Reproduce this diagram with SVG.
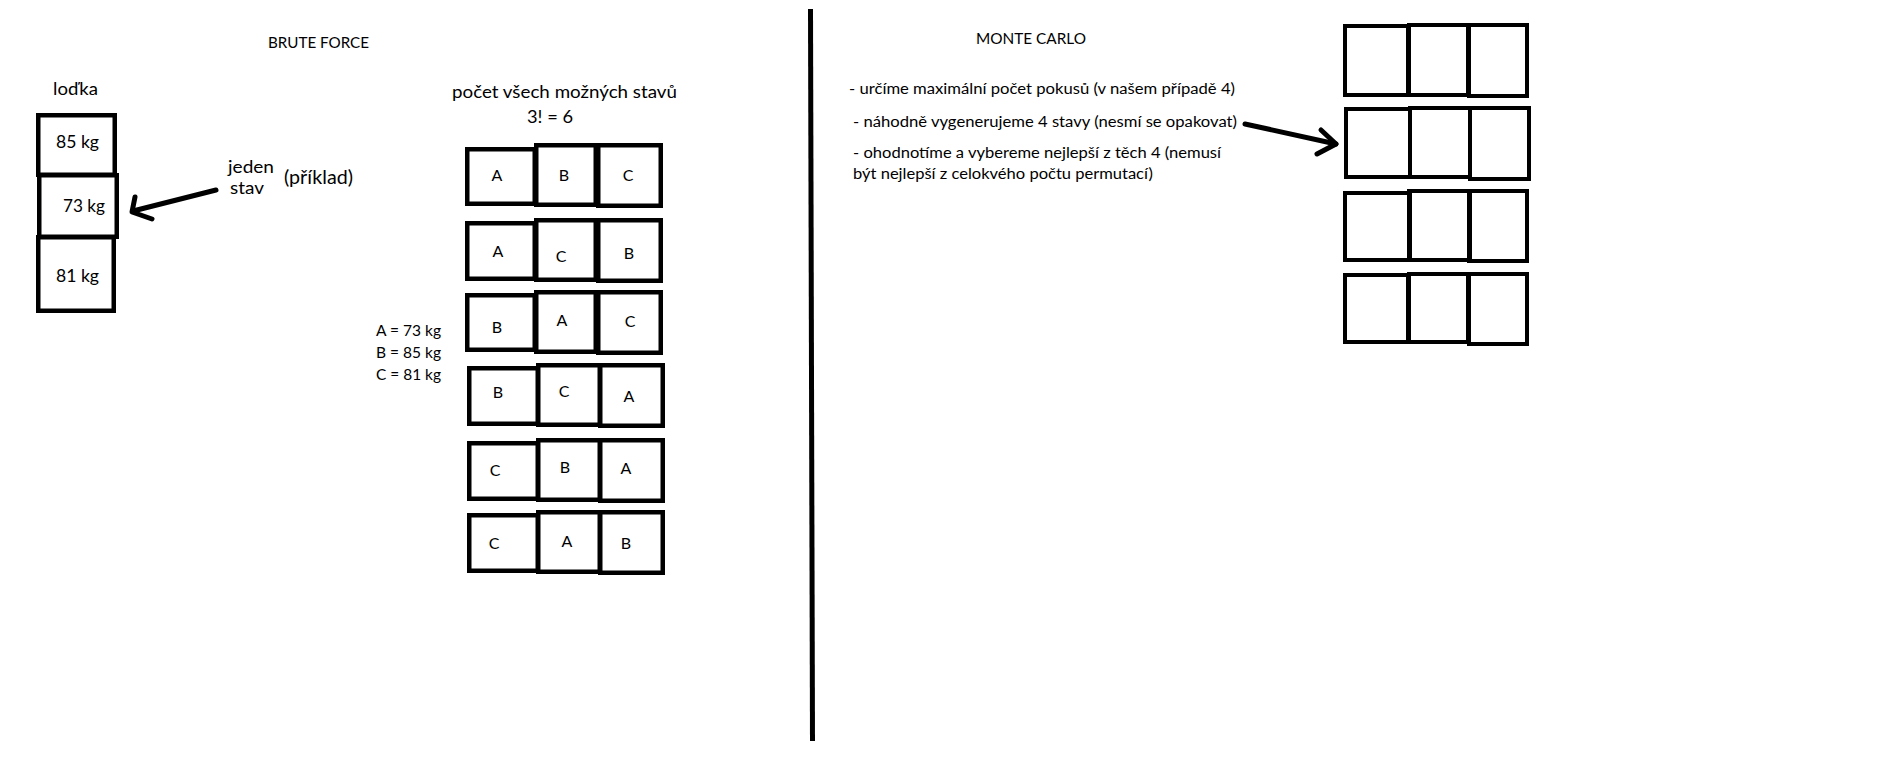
<svg xmlns="http://www.w3.org/2000/svg" width="1895" height="765" viewBox="0 0 1895 765">
<style>
  .bg { fill: #ffffff; }
  .t { font-family: Lato, "Liberation Sans", "DejaVu Sans", sans-serif; fill: #000; }
  .cell { fill: none; stroke: #000; stroke-width: 4.5; }
  .mc { fill: none; stroke: #000; stroke-width: 4; }
  .arrow { fill: none; stroke: #000; stroke-width: 5; stroke-linecap: round; stroke-linejoin: round; }
  .divider { stroke: #000; stroke-width: 5; stroke-linecap: butt; }
  .lt { font-size: 16px; text-anchor: middle; }
</style>
<rect class="bg" x="0" y="0" width="1895" height="765"/>

<!-- titles -->
<text class="t" x="268" y="48" font-size="16" textLength="101" lengthAdjust="spacingAndGlyphs">BRUTE FORCE</text>
<text class="t" x="976" y="44" font-size="15" textLength="110" lengthAdjust="spacingAndGlyphs">MONTE CARLO</text>

<!-- divider -->
<line class="divider" x1="810.5" y1="9" x2="812.5" y2="741"/>

<!-- boat -->
<g id="lodka">
  <text class="t" x="53" y="95" font-size="18" textLength="45" lengthAdjust="spacingAndGlyphs">loďka</text>
  <g id="lodka-85">
    <rect class="cell" x="38.25" y="115.25" width="76.5" height="59.5"/>
    <text class="t" x="56" y="148" font-size="18" textLength="43" lengthAdjust="spacingAndGlyphs">85 kg</text>
  </g>
  <g id="lodka-73">
    <rect class="cell" x="39.25" y="175.25" width="77.5" height="61.5"/>
    <text class="t" x="63" y="212" font-size="18" textLength="42" lengthAdjust="spacingAndGlyphs">73 kg</text>
  </g>
  <g id="lodka-81">
    <rect class="cell" x="38.25" y="237.25" width="75.5" height="73.5"/>
    <text class="t" x="56" y="282" font-size="18" textLength="43" lengthAdjust="spacingAndGlyphs">81 kg</text>
  </g>
</g>

<g id="label-jeden-stav">
  <text class="t" x="228" y="173" font-size="17.5" textLength="46" lengthAdjust="spacingAndGlyphs">jeden</text>
  <text class="t" x="230" y="194" font-size="17.5" textLength="34" lengthAdjust="spacingAndGlyphs">stav</text>
  <text class="t" x="284" y="184" font-size="19" textLength="69" lengthAdjust="spacingAndGlyphs">(příklad)</text>
</g>

<!-- brute force header -->
<g id="bf-header">
  <text class="t" x="452" y="98" font-size="18" textLength="225" lengthAdjust="spacingAndGlyphs">počet všech možných stavů</text>
  <text class="t" x="527" y="123" font-size="18" textLength="46" lengthAdjust="spacingAndGlyphs">3! = 6</text>
</g>

<g id="legend">
  <text class="t" x="376" y="336" font-size="15.5" textLength="65" lengthAdjust="spacingAndGlyphs">A = 73 kg</text>
  <text class="t" x="376" y="358" font-size="15.5" textLength="65" lengthAdjust="spacingAndGlyphs">B = 85 kg</text>
  <text class="t" x="376" y="380" font-size="15.5" textLength="65" lengthAdjust="spacingAndGlyphs">C = 81 kg</text>
</g>

<!-- brute force permutations -->
<g id="bf-row1">
  <rect class="cell" x="467.25" y="149.25" width="67.5" height="54.5"/>
  <rect class="cell" x="536.25" y="145.25" width="59.5" height="59.5"/>
  <rect class="cell" x="598.25" y="145.25" width="62.5" height="60.5"/>
  <text class="t lt" x="497" y="181" font-size="17">A</text>
  <text class="t lt" x="564" y="181" font-size="17">B</text>
  <text class="t lt" x="628" y="181" font-size="17">C</text>
</g>
<g id="bf-row2">
  <rect class="cell" x="467.25" y="223.25" width="67.5" height="55.5"/>
  <rect class="cell" x="536.25" y="220.25" width="59.5" height="59.5"/>
  <rect class="cell" x="598.25" y="220.25" width="62.5" height="60.5"/>
  <text class="t lt" x="498" y="257" font-size="17">A</text>
  <text class="t lt" x="561" y="262">C</text>
  <text class="t lt" x="629" y="259" font-size="15">B</text>
</g>
<g id="bf-row3">
  <rect class="cell" x="467.25" y="295.25" width="67.5" height="54.5"/>
  <rect class="cell" x="536.25" y="292.25" width="59.5" height="59.5"/>
  <rect class="cell" x="598.25" y="292.25" width="62.5" height="60.5"/>
  <text class="t lt" x="497" y="333">B</text>
  <text class="t lt" x="562" y="326">A</text>
  <text class="t lt" x="630" y="327">C</text>
</g>
<g id="bf-row4">
  <rect class="cell" x="469.25" y="368.25" width="68.5" height="55.5"/>
  <rect class="cell" x="538.25" y="365.25" width="61.5" height="59.5"/>
  <rect class="cell" x="600.25" y="365.25" width="62.5" height="60.5"/>
  <text class="t lt" x="498" y="398">B</text>
  <text class="t lt" x="564" y="397">C</text>
  <text class="t lt" x="629" y="402">A</text>
</g>
<g id="bf-row5">
  <rect class="cell" x="469.25" y="443.25" width="68.5" height="55.5"/>
  <rect class="cell" x="538.25" y="440.25" width="61.5" height="59.5"/>
  <rect class="cell" x="600.25" y="440.25" width="62.5" height="60.5"/>
  <text class="t lt" x="495" y="476">C</text>
  <text class="t lt" x="565" y="473">B</text>
  <text class="t lt" x="626" y="474">A</text>
</g>
<g id="bf-row6">
  <rect class="cell" x="469.25" y="515.25" width="68.5" height="55.5"/>
  <rect class="cell" x="538.25" y="512.25" width="61.5" height="59.5"/>
  <rect class="cell" x="600.25" y="512.25" width="62.5" height="60.5"/>
  <text class="t lt" x="494" y="549">C</text>
  <text class="t lt" x="567" y="547">A</text>
  <text class="t lt" x="626" y="549">B</text>
</g>

<!-- monte carlo text -->
<g id="mc-text">
  <text class="t" x="849" y="94" font-size="15.5" textLength="386" lengthAdjust="spacingAndGlyphs">- určíme maximální počet pokusů (v našem případě 4)</text>
  <text class="t" x="853" y="127" font-size="15.5" textLength="384" lengthAdjust="spacingAndGlyphs">- náhodně vygenerujeme 4 stavy (nesmí se opakovat)</text>
  <text class="t" x="853" y="158" font-size="15.5" textLength="368" lengthAdjust="spacingAndGlyphs">- ohodnotíme a vybereme nejlepší z těch 4 (nemusí</text>
  <text class="t" x="853" y="179" font-size="15.5" textLength="300" lengthAdjust="spacingAndGlyphs">být nejlepší z celokvého počtu permutací)</text>
</g>

<!-- monte carlo states -->
<g id="mc-row1">
  <rect class="mc" x="1345" y="26" width="63" height="69"/>
  <rect class="mc" x="1409" y="25" width="59" height="70"/>
  <rect class="mc" x="1469" y="25" width="58" height="71"/>
</g>
<g id="mc-row2">
  <rect class="mc" x="1346" y="109" width="64" height="68"/>
  <rect class="mc" x="1410" y="108" width="60" height="69"/>
  <rect class="mc" x="1470" y="108" width="59" height="71"/>
</g>
<g id="mc-row3">
  <rect class="mc" x="1345" y="193" width="65" height="67"/>
  <rect class="mc" x="1409" y="191" width="61" height="69"/>
  <rect class="mc" x="1469" y="191" width="58" height="70"/>
</g>
<g id="mc-row4">
  <rect class="mc" x="1345" y="275" width="63" height="67"/>
  <rect class="mc" x="1409" y="274" width="59" height="68"/>
  <rect class="mc" x="1469" y="274" width="58" height="70"/>
</g>

<!-- connectors -->
<g id="connectors">
  <path class="arrow" d="M216,190 L133,211"/>
  <path class="arrow" d="M135,197 L132,212 L152,219"/>
  <path class="arrow" d="M1245,124 L1336,144"/>
  <path class="arrow" d="M1321,130 L1336,144 L1317,154"/>
</g>
</svg>
